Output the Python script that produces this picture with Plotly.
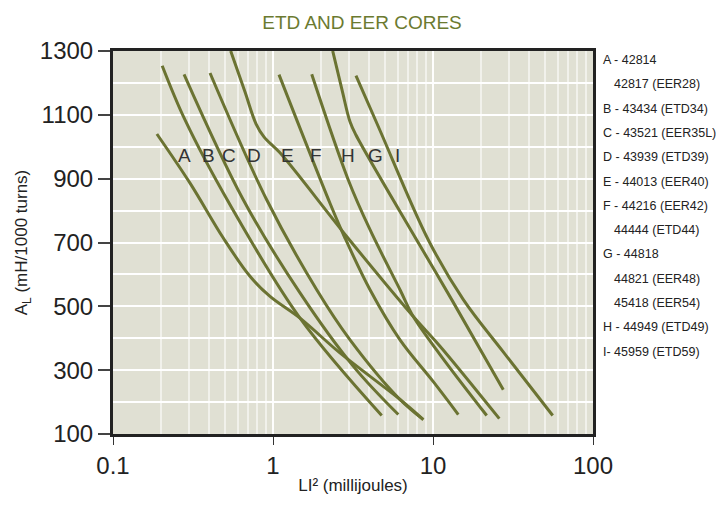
import numpy as np
import plotly.graph_objects as go

# ---- data ----
A_x = [0.188, 0.303, 0.489, 0.718, 0.958, 1.475, 2.62, 6.22, 8.70]
A_y = [1040, 886, 714, 594, 531, 463, 354, 208, 145]
B_x = [0.203, 0.282, 0.539, 1.475, 4.78]
B_y = [1254, 1084, 818, 463, 158]
C_x = [0.278, 0.652, 1.475, 3.18, 6.07]
C_y = [1227, 834, 542, 312, 161]
D_x = [0.404, 0.913, 1.876, 3.03, 6.22, 8.70]
D_y = [1231, 834, 552, 395, 208, 145]
E_x = [0.544, 0.668, 0.783, 0.878, 1.106, 2.888, 7.53, 11.06, 25.97]
E_y = [1300, 1172, 1072, 1031, 981, 719, 468, 375, 148]
F_x = [1.090, 2.271, 2.818, 4.04, 6.22, 10.04, 14.39]
F_y = [1226, 823, 714, 552, 395, 264, 161]
H_x = [1.746, 2.955, 4.04, 6.22, 7.53, 11.06, 21.66]
H_y = [1227, 896, 740, 552, 468, 349, 158]
G_x = [2.361, 2.70, 3.03, 3.30, 7.91, 13.09, 27.5]
G_y = [1300, 1178, 1078, 1037, 708, 521, 239]
I_x = [3.30, 4.60, 9.35, 15.47, 27.4, 56.0]
I_y = [1223, 1058, 708, 521, 358, 158]

curves = {"A": (A_x, A_y), "B": (B_x, B_y), "C": (C_x, C_y), "D": (D_x, D_y),
          "E": (E_x, E_y), "F": (F_x, F_y), "H": (H_x, H_y), "G": (G_x, G_y),
          "I": (I_x, I_y)}

label_letters = ["A", "B", "C", "D", "E", "F", "H", "G", "I"]
label_x = [0.278, 0.398, 0.531, 0.762, 1.24, 1.85, 2.94, 4.34, 5.97]
label_y = 974

legend_rows = ["A - 42814", "42817 (EER28)", "B - 43434 (ETD34)", "C - 43521 (EER35L)",
               "D - 43939 (ETD39)", "E - 44013 (EER40)", "F - 44216 (EER42)",
               "44444 (ETD44)", "G - 44818", "44821 (EER48)", "45418 (EER54)",
               "H - 44949 (ETD49)", "I- 45959 (ETD59)"]
legend_indent = [0, 1, 0, 0, 0, 0, 0, 1, 0, 1, 1, 0, 0]

x_tickvals = [0.1, 1, 10, 100]
x_ticktext = ["0.1", "1", "10", "100"]
y_tickvals = [100, 300, 500, 700, 900, 1100, 1300]

FONT = "Liberation Sans, Arial, sans-serif"
LINE = "#6b7332"

fig = go.Figure()
for name, (xs, ys) in curves.items():
    fig.add_trace(go.Scatter(x=xs, y=ys, mode="lines", name=name,
                             line=dict(color=LINE, width=3, shape="spline", smoothing=1.0),
                             showlegend=False, hoverinfo="x+y+name"))

minor_vals = [k * 10 ** d for d in (-1, 0, 1) for k in range(2, 10)]

fig.update_xaxes(type="log", range=[-1, 2], tickvals=x_tickvals, ticktext=x_ticktext,
                 automargin=False,
                 showgrid=True, gridcolor="rgba(255,255,255,0.95)", gridwidth=2,
                 minor=dict(tickvals=minor_vals, showgrid=True,
                            gridcolor="rgba(255,255,255,0.55)", gridwidth=2, ticks=""),
                 showline=True, linecolor="#222", linewidth=3, mirror=True,
                 ticks="outside", ticklen=8, tickcolor="#333", tickwidth=1,
                 tickfont=dict(family=FONT, size=24, color="#222"),
                 title=dict(text="LI² (millijoules)", font=dict(family=FONT, size=17, color="#222"),
                            standoff=2),
                 zeroline=False)
fig.update_yaxes(range=[100, 1300], tickvals=y_tickvals,
                 automargin=False,
                 showgrid=True, gridcolor="white", gridwidth=2,
                 minor=dict(dtick=100, showgrid=True, gridcolor="white", gridwidth=2, ticks=""),
                 showline=True, linecolor="#222", linewidth=3, mirror=True,
                 ticks="outside", ticklen=12, tickcolor="#444", tickwidth=1.5,
                 tickfont=dict(family=FONT, size=24, color="#222"),
                 title=dict(text="A<sub>L</sub> (mH/1000 turns)",
                            font=dict(family=FONT, size=17, color="#222"), standoff=8),
                 zeroline=False)

for t, lx in zip(label_letters, label_x):
    fig.add_annotation(x=np.log10(lx), y=label_y, text=t, showarrow=False,
                       font=dict(family=FONT, size=19, color="#333"))

for i, (row, ind) in enumerate(zip(legend_rows, legend_indent)):
    py = 60 + 24.3 * i
    fig.add_annotation(xref="paper", yref="paper", x=1.0167 + 0.022 * ind,
                       y=1 - (py - 51) / 383, text=row, showarrow=False,
                       xanchor="left", yanchor="middle",
                       font=dict(family=FONT, size=12.5, color="#222"))

# the page body adds an 8px offset; size the figure so the plot lands where the reference has it
fig.update_layout(
    width=717, height=500,
    margin=dict(l=105, r=132, t=43, b=74),
    paper_bgcolor="white", plot_bgcolor="#e0e0d3",
    title=dict(text="ETD AND EER CORES", x=(362 - 8 - 105) / 480, xanchor="center",
               xref="paper", y=1 - 14 / 500, yanchor="middle",
               font=dict(family=FONT, size=19, color="#6b7a30")),
)

fig.write_html("out.html")
